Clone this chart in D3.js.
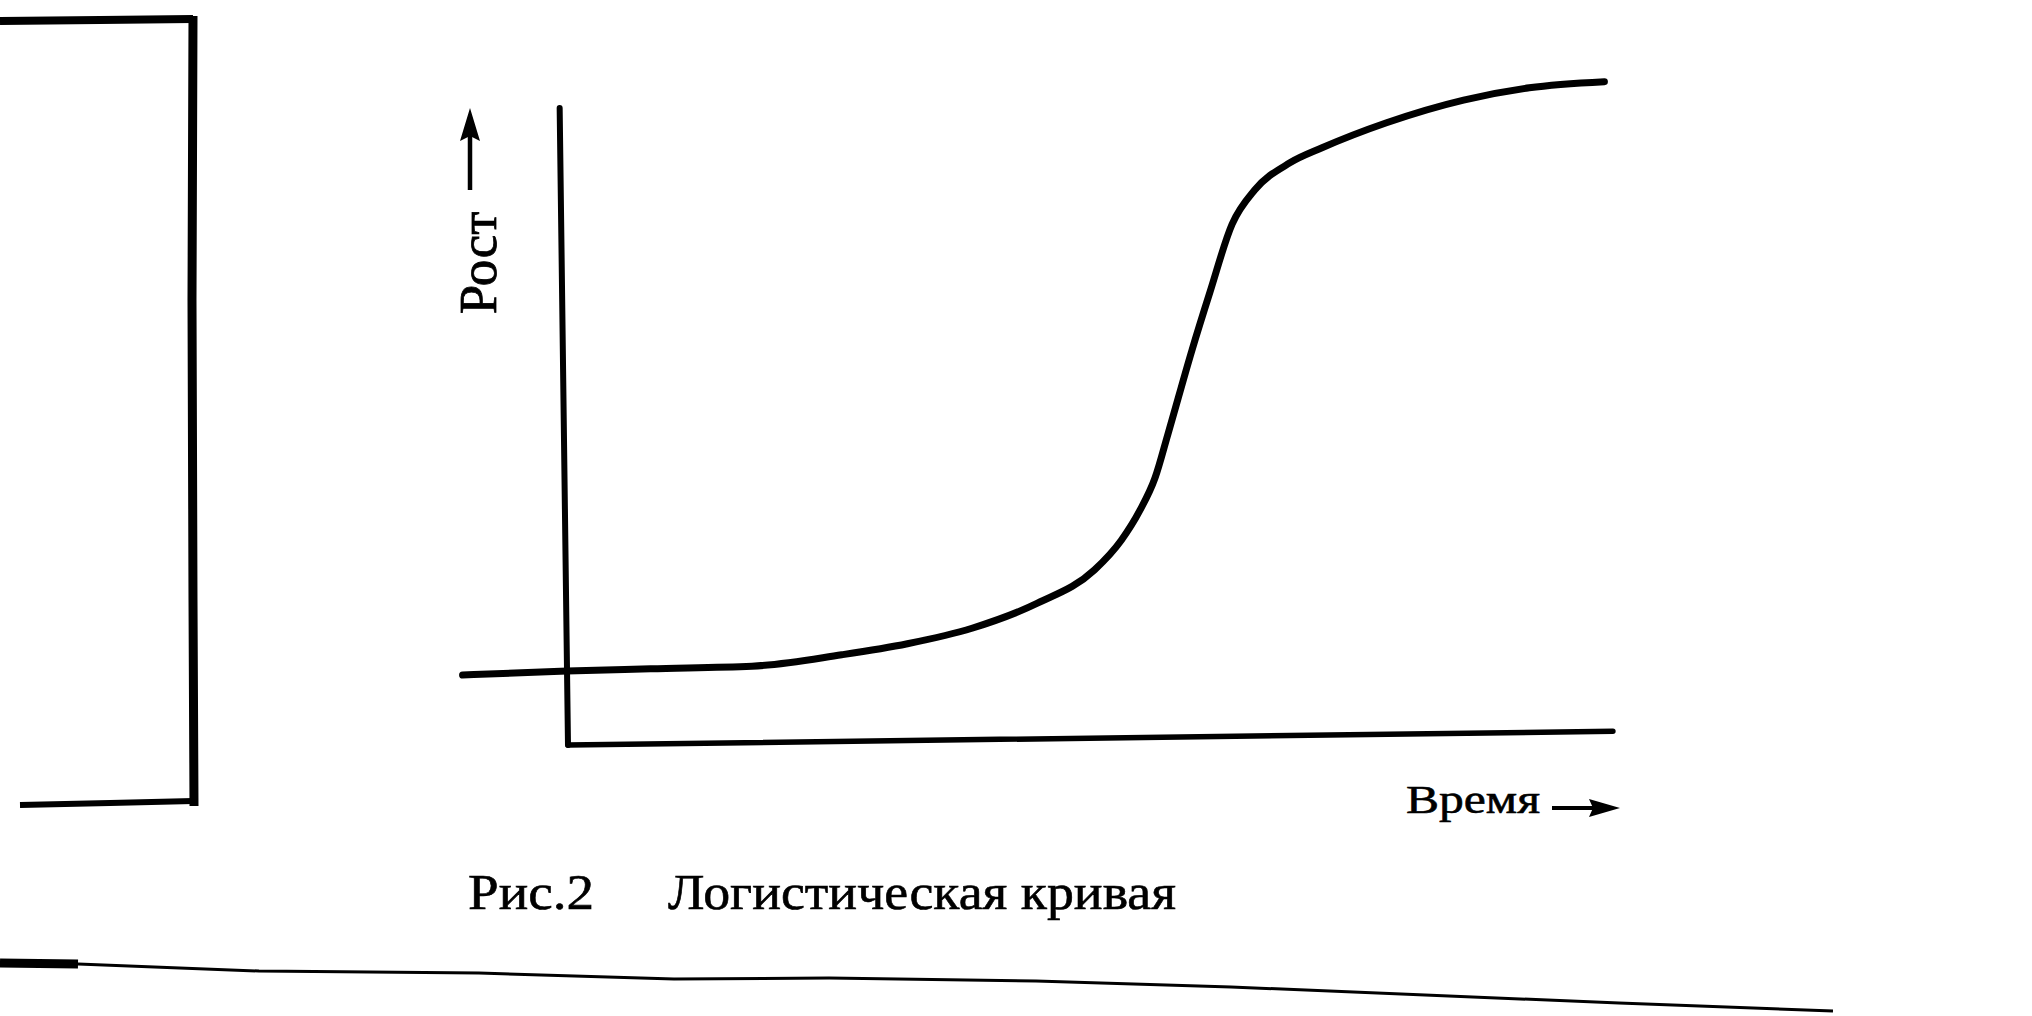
<!DOCTYPE html>
<html>
<head>
<meta charset="utf-8">
<script src="https://cdn.jsdelivr.net/npm/d3@7"></script>
<style>
  html, body { margin: 0; padding: 0; background: #ffffff; }
  svg { display: block; }
  text { font-family: "Liberation Serif", "DejaVu Serif", serif; fill: #000; }
</style>
</head>
<body>
<svg id="chart" width="2032" height="1016"></svg>
<script>
// ---- data (arbitrary units, axes span 0..100) ----
const timeValues   = [-10, 0, 8, 17.7, 26.3, 32.6, 38.8, 45.1, 50.6, 53.2, 55.0, 56.5, 57.8, 60.2, 62, 64.2, 66.4, 69.8, 72.9, 79.1, 86.5, 92.8, 100];
const growthValues = [11.2, 11.6, 11.8, 12.0, 13.6, 15.2, 17.5, 21.3, 26.4, 31.0, 35.6, 40.7, 47.6, 60.7, 69.8, 80.4, 85.7, 89.9, 92.2, 96.0, 99.4, 101.2, 102.0];
const timeDomain   = [0, 100];
const growthDomain = [0, 100];
const yAxisLabel   = "Рост";
const xAxisLabel   = "Время";
const figureNumber = "Рис.2";
const figureTitle  = "Логистическая кривая";

// decorative scan edges (page pixels)
const scanFrameV   = [[193, 16], [192, 300], [193, 600], [194, 806]];
const scanFrameTop = [[0, 21], [100, 20], [193, 19]];
const scanFrameBot = [[20, 805], [110, 803], [193, 801]];
const scanPageLine = [[0, 963], [78, 964], [259, 971], [479, 973], [674, 979], [829, 978], [1036, 981], [1231, 987], [1425, 995], [1619, 1003], [1833, 1011]];

const svg = d3.select("#chart");
svg.append("rect").attr("width", 2032).attr("height", 1016).attr("fill", "#fff");

const origin = {x: 568, y: 745};
const x = d3.scaleLinear().domain(timeDomain).range([origin.x, 1613]);
const y = d3.scaleLinear().domain(growthDomain).range([origin.y, 108]);

// scanned page is slightly rotated
const g = svg.append("g").attr("transform", `rotate(-0.75, ${origin.x}, ${origin.y})`);

const axisLine = d3.line().x(d => x(d[0])).y(d => y(d[1]));
// y axis
g.append("path")
  .attr("d", axisLine([[timeDomain[0], growthDomain[0]], [timeDomain[0], growthDomain[1]]]))
  .attr("stroke", "#000").attr("stroke-width", 6).attr("fill", "none").attr("stroke-linecap", "round");
// x axis
g.append("path")
  .attr("d", axisLine([[timeDomain[0], growthDomain[0]], [timeDomain[1], growthDomain[0]]]))
  .attr("stroke", "#000").attr("stroke-width", 5.5).attr("fill", "none").attr("stroke-linecap", "round");

// logistic curve
const pts = timeValues.map((t, i) => [t, growthValues[i]]);
g.append("path")
  .attr("d", d3.line().x(d => x(d[0])).y(d => y(d[1])).curve(d3.curveMonotoneX)(pts))
  .attr("stroke", "#000").attr("stroke-width", 7).attr("fill", "none").attr("stroke-linecap", "round");

// y-axis label with arrow
svg.append("text")
  .attr("transform", "translate(496, 263) rotate(-90)")
  .attr("text-anchor", "middle")
  .attr("font-size", 53)
  .attr("stroke", "#000").attr("stroke-width", 0.8)
  .text(yAxisLabel);
svg.append("line").attr("x1", 470).attr("y1", 190).attr("x2", 470).attr("y2", 132)
  .attr("stroke", "#000").attr("stroke-width", 4.5);
svg.append("path").attr("d", "M470,108 L460,141 L470,136 L480,141 Z").attr("fill", "#000");

// x-axis label with arrow
svg.append("text")
  .attr("x", 1406).attr("y", 813)
  .attr("font-size", 40)
  .attr("stroke", "#000").attr("stroke-width", 0.6)
  .attr("textLength", 134).attr("lengthAdjust", "spacingAndGlyphs")
  .text(xAxisLabel);
svg.append("line").attr("x1", 1552).attr("y1", 808).attr("x2", 1596).attr("y2", 808)
  .attr("stroke", "#000").attr("stroke-width", 4);
svg.append("path").attr("d", "M1620,808 L1589,799 L1593,808 L1589,817 Z").attr("fill", "#000");

// caption
svg.append("text")
  .attr("x", 468).attr("y", 909)
  .attr("font-size", 50)
  .attr("stroke", "#000").attr("stroke-width", 0.6)
  .attr("textLength", 126).attr("lengthAdjust", "spacingAndGlyphs")
  .text(figureNumber);
svg.append("text")
  .attr("x", 668).attr("y", 909)
  .attr("font-size", 50)
  .attr("stroke", "#000").attr("stroke-width", 0.6)
  .attr("textLength", 508).attr("lengthAdjust", "spacingAndGlyphs")
  .text(figureTitle);

// scan artifacts: left frame and bottom page edge
const pageLine = d3.line();
svg.append("path").attr("d", pageLine(scanFrameV)).attr("stroke", "#000").attr("stroke-width", 9).attr("fill", "none");
svg.append("path").attr("d", pageLine(scanFrameTop)).attr("stroke", "#000").attr("stroke-width", 8).attr("fill", "none");
svg.append("path").attr("d", pageLine(scanFrameBot)).attr("stroke", "#000").attr("stroke-width", 6).attr("fill", "none");
svg.append("path").attr("d", pageLine(scanPageLine)).attr("stroke", "#000").attr("stroke-width", 3).attr("fill", "none");
svg.append("path").attr("d", pageLine(scanPageLine.slice(0, 2))).attr("stroke", "#000").attr("stroke-width", 9).attr("fill", "none");
</script>
</body>
</html>
